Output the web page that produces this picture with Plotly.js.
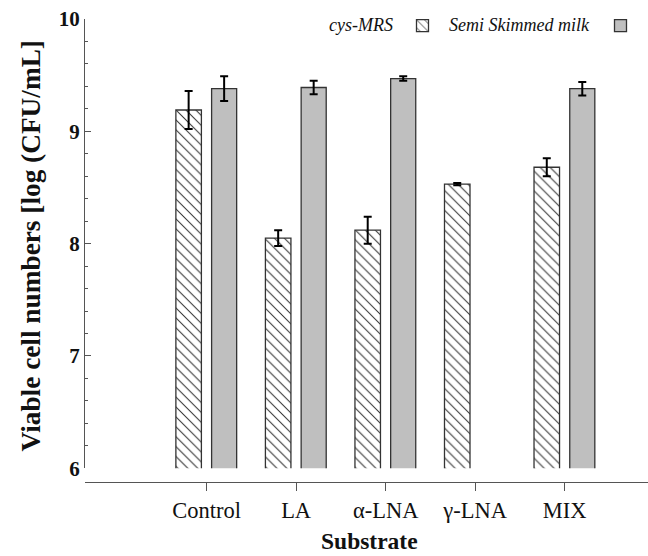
<!DOCTYPE html>
<html><head><meta charset="utf-8">
<script src="https://cdn.plot.ly/plotly-3.0.1.min.js"></script>
<style>html,body{margin:0;padding:0;background:#fff}</style>
</head><body>
<div id="chart" style="width:648px;height:556px"></div>
<script>
const categories = ['Control', 'LA', 'α-LNA', 'γ-LNA', 'MIX'];
const cysMRS = [9.19, 8.05, 8.12, 8.53, 8.68];
const cysMRSErr = [0.17, 0.07, 0.12, 0.01, 0.08];
const milk = [9.38, 9.39, 9.47, null, 9.38];
const milkErr = [0.11, 0.06, 0.02, null, 0.06];
const seriesNames = ['cys-MRS', 'Semi Skimmed milk'];
const yTicks = [6, 7, 8, 9, 10];

const serif = 'Liberation Serif, Times New Roman, serif';
const axisGray = '#555';

const traces = [
  {
    type: 'bar', x: categories, y: cysMRS, name: '', legend: 'legend',
    width: 0.285, offset: -0.343,
    marker: {
      color: 'white',
      line: {color: '#333', width: 1.3},
      pattern: {shape: '\\', fgcolor: '#333', bgcolor: 'white', size: 7, solidity: 0.15}
    },
    error_y: {type: 'data', array: cysMRSErr, visible: true, color: '#000', thickness: 2, width: 4}
  },
  {
    type: 'bar', x: categories, y: milk, name: '', legend: 'legend2',
    width: 0.28, offset: 0.056,
    marker: {color: '#bfbfbf', line: {color: '#333', width: 1.3}},
    error_y: {type: 'data', array: milkErr, visible: true, color: '#000', thickness: 2, width: 4}
  }
];

const legendBase = {
  xref: 'paper', yref: 'paper', xanchor: 'left', yanchor: 'middle',
  y: (482 - 26) / 463, bgcolor: 'rgba(0,0,0,0)', borderwidth: 0,
  font: {family: serif, size: 18}
};

const layout = {
  width: 648, height: 556,
  margin: {l: 85, r: 0, t: 19, b: 74},
  paper_bgcolor: 'white', plot_bgcolor: 'white',
  barmode: 'overlay',
  showlegend: true,
  legend: Object.assign({}, legendBase, {x: (402.5 - 85) / 563}),
  legend2: Object.assign({}, legendBase, {x: (600.5 - 85) / 563}),
  xaxis: {
    type: 'category', categoryorder: 'array', categoryarray: categories,
    range: [-1.358, 4.93],
    anchor: 'free', position: 0,
    showline: true, linecolor: axisGray, linewidth: 1,
    ticks: 'outside', ticklen: 8, tickcolor: axisGray, tickwidth: 1,
    tickfont: {family: serif, size: 22.5, color: '#111'},
    showgrid: false, zeroline: false
  },
  yaxis: {
    domain: [0.0296, 1], range: [6, 10],
    tickvals: yTicks, ticktext: yTicks.map(String),
    showline: true, linecolor: axisGray, linewidth: 1,
    ticks: 'inside', ticklen: 6, tickcolor: axisGray, tickwidth: 1,
    minor: {dtick: 0.2, ticks: 'inside', ticklen: 3, tickcolor: axisGray},
    tickfont: {family: serif, size: 21, color: '#111', weight: 'bold'},
    showgrid: false, zeroline: false
  },
  annotations: [
    {text: 'Viable cell numbers [log (CFU/mL]', xref: 'paper', yref: 'paper',
     x: (31 - 85) / 563, y: (482 - 246.5) / 463, xanchor: 'center', yanchor: 'middle',
     textangle: -90, showarrow: false,
     font: {family: serif, size: 27.3, color: '#111', weight: 'bold'}},
    {text: 'Substrate', xref: 'paper', yref: 'paper',
     x: (369 - 85) / 563, y: (482 - 541) / 463, xanchor: 'center', yanchor: 'middle',
     showarrow: false,
     font: {family: serif, size: 23.5, color: '#111', weight: 'bold'}},
    {text: seriesNames[0], xref: 'paper', yref: 'paper',
     x: (395 - 85) / 563, y: (482 - 25) / 463, xanchor: 'right', yanchor: 'middle',
     showarrow: false, font: {family: serif, size: 18, color: '#111', style: 'italic'}},
    {text: seriesNames[1], xref: 'paper', yref: 'paper',
     x: (592 - 85) / 563, y: (482 - 25) / 463, xanchor: 'right', yanchor: 'middle',
     showarrow: false, font: {family: serif, size: 18, color: '#111', style: 'italic'}}
  ]
};

Plotly.newPlot('chart', traces, layout, {displayModeBar: false, staticPlot: true});
</script>
</body></html>
